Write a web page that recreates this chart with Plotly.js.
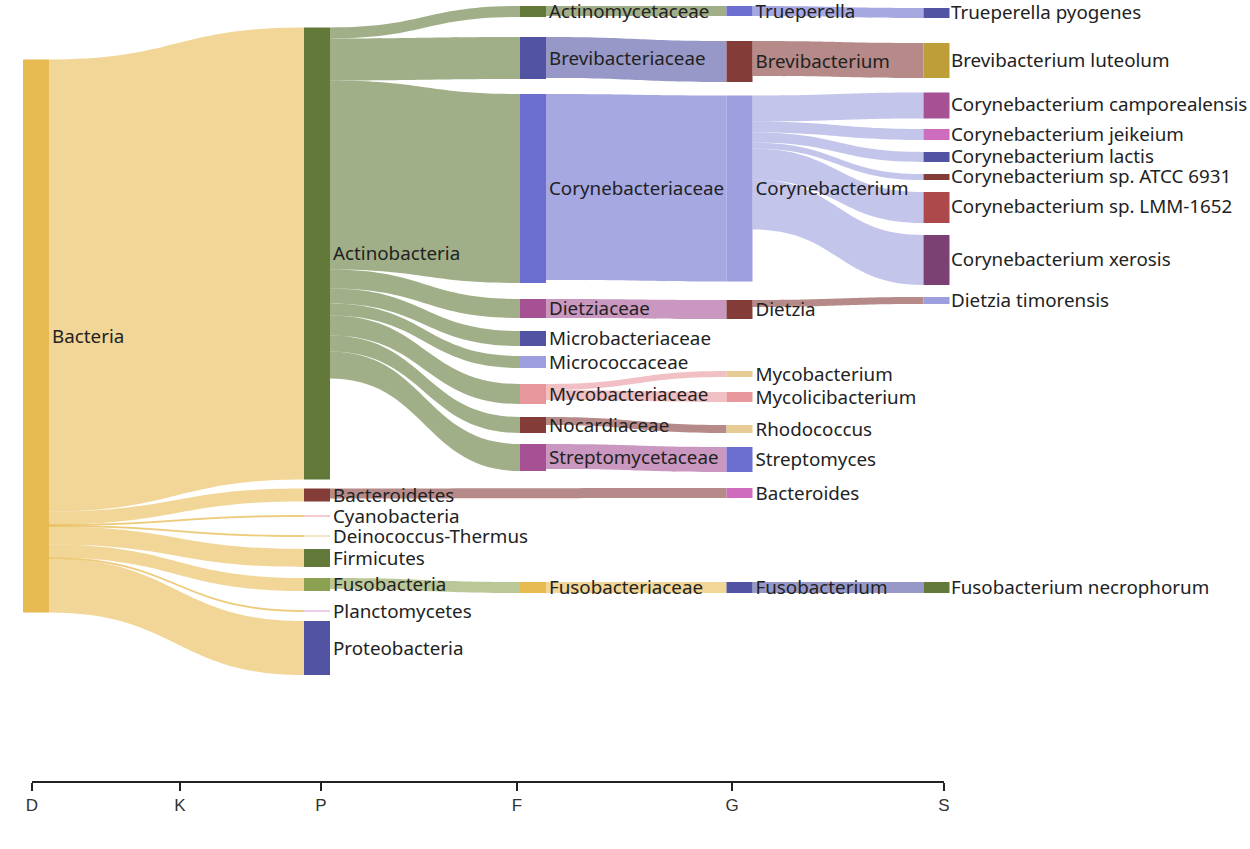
<!DOCTYPE html>
<html>
<head>
<meta charset="utf-8">
<script src="https://cdn.plot.ly/plotly-3.0.1.min.js"></script>
<style>
  html, body { margin: 0; padding: 0; background: #ffffff; }
  #chart { width: 1250px; height: 849px; }
</style>
</head>
<body>
<div id="chart"></div>
<script>
// ---------------- data ----------------
const nodeLabels = [
  'Bacteria',
  'Actinobacteria', 'Bacteroidetes', 'Cyanobacteria', 'Deinococcus-Thermus',
  'Firmicutes', 'Fusobacteria', 'Planctomycetes', 'Proteobacteria',
  'Actinomycetaceae', 'Brevibacteriaceae', 'Corynebacteriaceae', 'Dietziaceae',
  'Microbacteriaceae', 'Micrococcaceae', 'Mycobacteriaceae', 'Nocardiaceae',
  'Streptomycetaceae', 'Fusobacteriaceae',
  'Trueperella', 'Brevibacterium', 'Corynebacterium', 'Dietzia',
  'Mycobacterium', 'Mycolicibacterium', 'Rhodococcus', 'Streptomyces',
  'Bacteroides', 'Fusobacterium',
  'Trueperella pyogenes', 'Brevibacterium luteolum',
  'Corynebacterium camporealensis', 'Corynebacterium jeikeium',
  'Corynebacterium lactis', 'Corynebacterium sp. ATCC 6931',
  'Corynebacterium sp. LMM-1652', 'Corynebacterium xerosis',
  'Dietzia timorensis', 'Fusobacterium necrophorum'
];
// taxonomic rank of every node (index into rankLabels)
const nodeRank = [
  0,
  2, 2, 2, 2, 2, 2, 2, 2,
  3, 3, 3, 3, 3, 3, 3, 3, 3, 3,
  4, 4, 4, 4, 4, 4, 4, 4, 4, 4,
  5, 5, 5, 5, 5, 5, 5, 5, 5, 5
];
const rankLabels = ['D', 'K', 'P', 'F', 'G', 'S'];

const linkSource = [
  'Bacteria', 'Bacteria', 'Bacteria', 'Bacteria', 'Bacteria', 'Bacteria', 'Bacteria', 'Bacteria',
  'Actinobacteria', 'Actinobacteria', 'Actinobacteria', 'Actinobacteria', 'Actinobacteria',
  'Actinobacteria', 'Actinobacteria', 'Actinobacteria', 'Actinobacteria',
  'Bacteroidetes', 'Fusobacteria',
  'Actinomycetaceae', 'Brevibacteriaceae', 'Corynebacteriaceae', 'Dietziaceae',
  'Mycobacteriaceae', 'Mycobacteriaceae', 'Nocardiaceae', 'Streptomycetaceae', 'Fusobacteriaceae',
  'Trueperella', 'Brevibacterium',
  'Corynebacterium', 'Corynebacterium', 'Corynebacterium', 'Corynebacterium', 'Corynebacterium', 'Corynebacterium',
  'Dietzia', 'Fusobacterium'
];
const linkTarget = [
  'Actinobacteria', 'Bacteroidetes', 'Cyanobacteria', 'Deinococcus-Thermus',
  'Firmicutes', 'Fusobacteria', 'Planctomycetes', 'Proteobacteria',
  'Actinomycetaceae', 'Brevibacteriaceae', 'Corynebacteriaceae', 'Dietziaceae',
  'Microbacteriaceae', 'Micrococcaceae', 'Mycobacteriaceae', 'Nocardiaceae', 'Streptomycetaceae',
  'Bacteroides', 'Fusobacteriaceae',
  'Trueperella', 'Brevibacterium', 'Corynebacterium', 'Dietzia',
  'Mycobacterium', 'Mycolicibacterium', 'Rhodococcus', 'Streptomyces', 'Fusobacterium',
  'Trueperella pyogenes', 'Brevibacterium luteolum',
  'Corynebacterium camporealensis', 'Corynebacterium jeikeium', 'Corynebacterium lactis',
  'Corynebacterium sp. ATCC 6931', 'Corynebacterium sp. LMM-1652', 'Corynebacterium xerosis',
  'Dietzia timorensis', 'Fusobacterium necrophorum'
];
const linkValue = [
  452, 13, 1, 1, 18, 13, 1, 54,
  11, 42, 189, 19, 15, 12, 20, 16, 27,
  10, 11,
  10, 41, 186, 19, 6, 10, 8, 25, 11,
  10, 35,
  26, 11, 10, 6, 31, 50,
  7, 11
];

// ---------------- styling / layout ----------------
const palette = {
  'Bacteria': '#e7ba52',
  'Actinobacteria': '#637939', 'Bacteroidetes': '#843c39', 'Cyanobacteria': '#e7969c',
  'Deinococcus-Thermus': '#e7cb94', 'Firmicutes': '#637939', 'Fusobacteria': '#8ca252',
  'Planctomycetes': '#de9ed6', 'Proteobacteria': '#5254a3',
  'Actinomycetaceae': '#637939', 'Brevibacteriaceae': '#5254a3', 'Corynebacteriaceae': '#6b6ecf',
  'Dietziaceae': '#a55194', 'Microbacteriaceae': '#5254a3', 'Micrococcaceae': '#9c9ede',
  'Mycobacteriaceae': '#e7969c', 'Nocardiaceae': '#843c39', 'Streptomycetaceae': '#a55194',
  'Fusobacteriaceae': '#e7ba52',
  'Trueperella': '#6b6ecf', 'Brevibacterium': '#843c39', 'Corynebacterium': '#9c9ede',
  'Dietzia': '#843c39', 'Mycobacterium': '#e7cb94', 'Mycolicibacterium': '#e7969c',
  'Rhodococcus': '#e7cb94', 'Streptomyces': '#6b6ecf', 'Bacteroides': '#ce6dbd',
  'Fusobacterium': '#5254a3',
  'Trueperella pyogenes': '#5254a3', 'Brevibacterium luteolum': '#bd9e39',
  'Corynebacterium camporealensis': '#a55194', 'Corynebacterium jeikeium': '#ce6dbd',
  'Corynebacterium lactis': '#5254a3', 'Corynebacterium sp. ATCC 6931': '#843c39',
  'Corynebacterium sp. LMM-1652': '#ad494a', 'Corynebacterium xerosis': '#7b4173',
  'Dietzia timorensis': '#9c9ede', 'Fusobacterium necrophorum': '#637939'
};

const W = 1250, H = 849;
const NODE_W = 26;
const labelFont = { family: 'Noto Sans, Open Sans, sans-serif', size: 18.8, color: '#222222' };
// pixel x of each rank column on the page, and of the bottom axis ticks
const rankNodeX = [36, 180, 317, 533, 739.5, 936.5];
const rankTickX = [32, 180, 321, 517, 732, 944];
const axisY = 780.5;
// vertical centre (px) of each node as laid out in the figure
const nodeCenterY = [
  336,
  253.5, 495, 516, 536, 558, 584.5, 611, 648,
  11.5, 58, 188.5, 308.5, 338.5, 362, 394, 425, 457.5, 587.5,
  11, 61.5, 188.5, 309.5, 374, 397, 429, 459.5, 493, 587.5,
  13, 60.5, 105.5, 134.5, 157, 177, 207.5, 260, 300.5, 587.5
];

function hexToRgba(hex, a) {
  const n = parseInt(hex.slice(1), 16);
  return 'rgba(' + ((n >> 16) & 255) + ',' + ((n >> 8) & 255) + ',' + (n & 255) + ',' + a + ')';
}

const idx = {};
nodeLabels.forEach((l, i) => { idx[l] = i; });

// padding chosen so one value unit equals one pixel in the phylum column
const phylumCount = nodeRank.filter(r => r === 2).length;
const bacteriaOut = linkValue.filter((v, i) => linkSource[i] === 'Bacteria').reduce((a, b) => a + b, 0);
const nodePad = (H - bacteriaOut) / (phylumCount - 1);

// Plotly flips labels of the last column to the left; draw those as annotations on the right
const lastRank = rankLabels.length - 1;
const sankeyLabels = nodeLabels.map((l, i) => nodeRank[i] === lastRank ? '' : l);
const speciesAnnotations = nodeLabels
  .map((l, i) => ({ l, i }))
  .filter(o => nodeRank[o.i] === lastRank)
  .map(o => ({
    text: o.l,
    xref: 'paper', yref: 'paper',
    x: (rankNodeX[lastRank] + NODE_W / 2 - 1) / W,
    y: 1 - (nodeCenterY[o.i] - 1) / H,
    xanchor: 'left', yanchor: 'middle',
    showarrow: false,
    font: labelFont
  }));

const sankey = {
  type: 'sankey',
  arrangement: 'fixed',
  domain: { x: [0, 1], y: [0, 1] },
  hoverinfo: 'none',
  textfont: Object.assign({ shadow: 'none' }, labelFont),
  node: {
    label: sankeyLabels,
    color: nodeLabels.map(l => palette[l]),
    x: nodeRank.map(r => rankNodeX[r] / W),
    y: nodeCenterY.map(v => v / H),
    thickness: NODE_W,
    pad: nodePad,
    align: 'left',
    line: { width: 0 }
  },
  link: {
    source: linkSource.map(s => idx[s]),
    target: linkTarget.map(t => idx[t]),
    value: linkValue,
    color: linkSource.map(s => hexToRgba(palette[s], 0.6))
  }
};

const axisTrace = {
  type: 'scatter', x: [], y: [], mode: 'markers', hoverinfo: 'skip', showlegend: false
};

const layout = {
  width: W, height: H,
  margin: { l: 0, r: 0, t: 0, b: 0 },
  paper_bgcolor: '#ffffff',
  plot_bgcolor: 'rgba(0,0,0,0)',
  showlegend: false,
  annotations: speciesAnnotations,
  xaxis: {
    domain: [rankTickX[0] / W, rankTickX[rankTickX.length - 1] / W],
    range: [rankTickX[0], rankTickX[rankTickX.length - 1]],
    tickmode: 'array',
    tickvals: rankTickX,
    ticktext: rankLabels,
    ticks: 'outside', ticklen: 8, tickwidth: 2, tickcolor: '#222222',
    showline: true, linecolor: '#222222', linewidth: 2,
    showgrid: false, zeroline: false, fixedrange: true,
    tickfont: { family: 'Liberation Sans Narrow, Liberation Sans, Arial, sans-serif', size: 17, color: '#333333' }
  },
  yaxis: {
    domain: [1 - axisY / H, 1 - axisY / H + 0.01],
    visible: false, fixedrange: true
  }
};

Plotly.newPlot('chart', [sankey, axisTrace], layout, { displayModeBar: false, staticPlot: true });
</script>
</body>
</html>
